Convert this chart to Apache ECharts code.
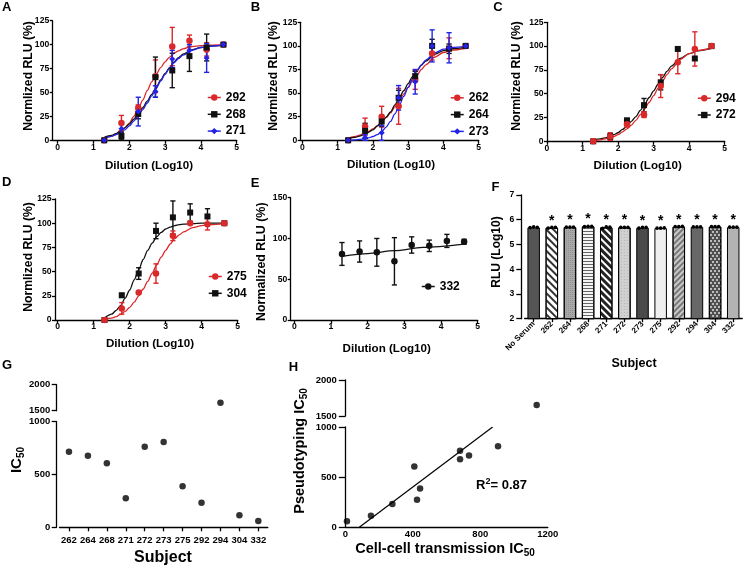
<!DOCTYPE html>
<html><head><meta charset="utf-8">
<script src="https://cdn.jsdelivr.net/npm/echarts@6/dist/echarts.min.js"></script>
<style>html,body{margin:0;padding:0;background:#fff}#c{width:747px;height:569px}</style>
</head><body><div id="c"></div>
<script>
const FONT = '"Liberation Sans", Arial, Helvetica, sans-serif';
const RED = '#d9292b', BLK = '#111111', BLU = '#2323e8';

// ---- shared dilution x values ----
const dilution = [1.3, 1.78, 2.25, 2.73, 3.2, 3.68, 4.16, 4.63];
const fitX = [1.3, 1.5, 1.625, 1.75, 1.875, 2, 2.125, 2.25, 2.375, 2.5, 2.625, 2.75, 2.875, 3, 3.125, 3.25, 3.375, 3.5, 3.75, 4, 4.25, 4.63];
const dilutionTicks = [0, 1, 2, 3, 4, 5];

// ---- Panel A ----
const a292 = [0, 18, 34, 67, 98, 104, 95, 100];
const a292Err = [0, 8, 3, 17, 20, 6, 7, 0];
const a292Fit = [2, 4, 6, 9, 13, 18, 25, 33, 42, 52, 61, 69, 76, 82, 87, 91, 93.5, 95.5, 98, 99, 99.5, 100];
const a268 = [0, 4.5, 27.5, 66, 73, 88, 97, 100];
const a268Err = [0, 4, 5, 21, 18, 16, 14, 0];
const a268Fit = [3, 5, 7, 10, 13, 17, 22, 28, 34, 41, 48, 55, 63, 70, 76, 82, 86.5, 90, 94.5, 97, 98.5, 99.5];
const a271 = [0, 12, 30, 51, 85, 94, 86, 100];
const a271Err = [0, 6, 15, 6, 9, 6, 15, 0];
const a271Fit = [2, 4, 6, 8, 11, 15, 20, 26, 32, 39, 46.5, 54, 62, 69, 75.5, 81, 85.5, 89, 94, 97, 98.5, 99.5];

// ---- Panel B ----
const b262 = [0, 14.5, 25, 36, 64, 92, 97.5, 100];
const b262Err = [0, 9, 11, 19, 10, 7, 11, 0];
const b262Fit = [2, 4, 5.5, 7, 9.5, 12, 15.5, 19, 24, 29, 35.5, 42, 49, 56, 63, 69, 75, 80, 88, 93, 95.5, 97.5];
const b264 = [0, 10, 20, 45, 68, 100, 97, 100];
const b264Err = [0, 8, 5, 8, 5, 7, 5, 0];
const b264Fit = [1.5, 3, 4.5, 6, 8.5, 11, 15, 19, 24.5, 30, 37.5, 45, 52.5, 60, 67.5, 74, 79.5, 84, 91, 95, 97, 98.5];
const b273 = [0, 3, 8, 45, 62, 100, 98, 100];
const b273Err = [0, 3, 8, 13, 13, 17, 16, 0];
const b273Fit = [0, 0.5, 1, 1.5, 2.5, 4, 6, 9, 14, 20, 28, 37, 46.5, 56, 65, 73, 80, 85, 92.5, 96.5, 98.5, 99.5];

// ---- Panel C ----
const c294 = [0, 5, 18, 28, 58, 83, 97, 100];
const c294Err = [0, 4, 3, 3, 12, 12, 18, 0];
const c294Fit = [0.5, 1.5, 2.5, 3.5, 5, 7, 10, 13, 17, 22, 28, 34, 41, 48, 55.5, 63, 70, 76, 86, 92, 95.5, 98];
const c272 = [0, 5, 22, 38, 62, 97, 87, 100];
const c272Err = [0, 3, 2, 7, 8, 0, 0, 0];
const c272Fit = [1, 2.5, 3.5, 5, 7, 9, 12.5, 16, 21, 26, 32.5, 39, 46, 53, 60, 67, 73.5, 79, 87, 92, 95, 97.5];

// ---- Panel D ----
const d275 = [0, 12, 28.5, 48, 87, 100, 99, 100];
const d275Err = [0, 6, 1, 10, 5, 0, 6, 0];
const d275Fit = [0.5, 2, 3.5, 6, 9, 13, 18.5, 25, 32, 40, 48.5, 57, 65, 72, 78.5, 84, 88, 91, 95.5, 97.5, 98.5, 99.5];
const d304 = [0, 25.5, 48, 92, 106, 111, 107, 100];
const d304Err = [0, 2, 6, 8, 17, 9, 8, 0];
const d304Fit = [2, 6, 10, 15, 22.5, 31, 41.5, 52, 62.5, 72, 79.5, 86, 90.5, 94, 96, 97.5, 98.5, 99, 99.5, 100, 100, 100];

// ---- Panel E ----
const e332 = [81, 84, 83, 72, 92, 91, 97, 96];
const e332Err = [14, 13, 17, 29, 10, 7, 8, 3];
const e332FitX = [1.3, 2, 2.73, 3.5, 4.63];
const e332Fit = [78, 81.5, 85, 89, 93];

// ---- Panel F ----
const fSubjects = ['No Serum', '262', '264', '268', '271', '272', '273', '275', '292', '294', '304', '332'];
const fMeans = [5.69, 5.68, 5.70, 5.73, 5.69, 5.69, 5.68, 5.66, 5.72, 5.71, 5.72, 5.70];
const fReps = [
  [5.68, 5.71, 5.69], [5.66, 5.69, 5.69], [5.70, 5.70, 5.70], [5.72, 5.73, 5.73],
  [5.65, 5.71, 5.70], [5.69, 5.69, 5.69], [5.66, 5.69, 5.69], [5.66, 5.66, 5.67],
  [5.72, 5.72, 5.73], [5.71, 5.71, 5.71], [5.72, 5.72, 5.72], [5.70, 5.70, 5.70]
];
const fSignificant = [false, true, true, true, true, true, true, true, true, true, true, true];

// ---- Panel G ----
const gSubjects = ['262', '264', '268', '271', '272', '273', '275', '292', '294', '304', '332'];
const gIC50 = [716, 678, 606, 275, 763, 808, 388, 233, 1654, 114, 60];

// ---- Panel H ----
const hCellCell = [733, 680, 409, 425, 680, 905, 443, 279, 1134, 152, 10];
const hPseudo = [716, 678, 606, 275, 763, 808, 388, 233, 1654, 114, 60];
const hFitX = [83, 873];
const hFitY = [0, 1000];

// ================= styling helpers =================
const lineSt = { color: '#000', width: 1.3 };
const plain = v => String(v);
function lab(size, margin, extra) {
  return Object.assign({ fontFamily: FONT, fontWeight: 'bold', fontSize: size, color: '#000', margin: margin, formatter: plain }, extra || {});
}
function dilX(gi, min) {
  return {
    type: 'value', gridIndex: gi, min: min, max: 5,
    axisLine: { show: true, onZero: false, lineStyle: lineSt },
    axisTick: { show: true, customValues: dilutionTicks, length: 3.5, lineStyle: lineSt },
    axisLabel: lab(8.6, 2.5, { customValues: dilutionTicks }),
    splitLine: { show: false }
  };
}
function valY(gi, min, max, interval, size, margin, tickLen, offset) {
  return {
    type: 'value', gridIndex: gi, min: min, max: max, interval: interval, offset: offset || 0,
    axisLine: { show: true, onZero: false, lineStyle: lineSt },
    axisTick: { show: true, length: tickLen, lineStyle: lineSt },
    axisLabel: lab(size, margin),
    splitLine: { show: false }
  };
}
function pointSeries(name, gi, ys, color, symbol) {
  return {
    type: 'line', name: name, xAxisIndex: gi, yAxisIndex: gi, z: 6,
    data: dilution.map((x, i) => [x, ys[i]]),
    symbol: symbol, symbolSize: symbol === 'circle' ? 6.5 : 6, showSymbol: true,
    itemStyle: { color: color, borderWidth: 0 }, lineStyle: { color: color, opacity: 0, width: 0 },
    silent: true, clip: false
  };
}
function fitSeries(gi, xs, ys, color) {
  return {
    type: 'line', xAxisIndex: gi, yAxisIndex: gi, z: 3,
    data: xs.map((x, i) => [x, ys[i]]),
    smooth: 0.3, smoothMonotone: 'x', symbol: 'none', showSymbol: false,
    lineStyle: { color: color, width: 1.3 }, silent: true
  };
}
function errSeries(gi, ys, es, color) {
  return {
    type: 'custom', xAxisIndex: gi, yAxisIndex: gi, z: 4, silent: true, clip: false,
    data: dilution.map((x, i) => [x, ys[i], es[i]]),
    renderItem: function (p, api) {
      const x = api.value(0), m = api.value(1), e = api.value(2);
      if (!e) return null;
      const t = api.coord([x, m + e]), b = api.coord([x, m - e]);
      const st = { stroke: color, lineWidth: 1.4 };
      return {
        type: 'group', children: [
          { type: 'line', shape: { x1: t[0], y1: t[1], x2: b[0], y2: b[1] }, style: st },
          { type: 'line', shape: { x1: t[0] - 2.6, y1: t[1], x2: t[0] + 2.6, y2: t[1] }, style: st },
          { type: 'line', shape: { x1: b[0] - 2.6, y1: b[1], x2: b[0] + 2.6, y2: b[1] }, style: st }
        ]
      };
    }
  };
}
function group(name, gi, ys, es, fx, fy, color, symbol) {
  return [fitSeries(gi, fx, fy, color), errSeries(gi, ys, es, color), pointSeries(name, gi, ys, color, symbol)];
}
function legend(left, top, names) {
  return {
    show: true, orient: 'vertical', left: left, top: top, padding: 0,
    itemWidth: 13, itemHeight: 8, itemGap: 4.8, selectedMode: false,
    lineStyle: { width: 1.5, opacity: 1 },
    textStyle: { fontFamily: FONT, fontWeight: 'bold', fontSize: 12, color: '#000' },
    data: names
  };
}

// ================= grids =================
const grids = [
  { left: 52.7, top: 20.7, width: 184, height: 119.6 },   // A
  { left: 300.7, top: 22.3, width: 178, height: 118 },    // B
  { left: 547, top: 22.3, width: 177.7, height: 119 },    // C
  { left: 55, top: 199, width: 182.7, height: 121 },      // D
  { left: 290.7, top: 197.7, width: 187, height: 122.3 }, // E
  { left: 524.6, top: 195, width: 217.7, height: 123.7 }, // F
  { left: 59.5, top: 421.7, width: 208.3, height: 105.6 },// G lower
  { left: 59.5, top: 384.7, width: 208.3, height: 26 },   // G upper
  { left: 345.3, top: 427, width: 202.5, height: 100.3 }, // H lower
  { left: 345.3, top: 380, width: 202.5, height: 36 }     // H upper
];

const xAxes = [
  dilX(0, -0.14), dilX(1, -0.045), dilX(2, 0), dilX(3, -0.075), dilX(4, -0.098),
  { type: 'category', gridIndex: 5, data: fSubjects,
    axisLine: { show: true, onZero: false, lineStyle: lineSt },
    axisTick: { show: true, alignWithLabel: true, length: 3.5, lineStyle: lineSt },
    axisLabel: lab(8, 4, { rotate: 45, interval: 0 }), splitLine: { show: false } },
  { type: 'category', gridIndex: 6, data: gSubjects,
    axisLine: { show: true, onZero: false, lineStyle: lineSt },
    axisTick: { show: true, alignWithLabel: true, length: 4, lineStyle: lineSt },
    axisLabel: lab(9.5, 8, { interval: 0 }), splitLine: { show: false } },
  { type: 'category', gridIndex: 7, data: gSubjects, show: false },
  { type: 'value', gridIndex: 8, min: 0, max: 1200, interval: 400,
    axisLine: { show: true, onZero: false, lineStyle: lineSt },
    axisTick: { show: false },
    axisLabel: lab(9.5, 2.5), splitLine: { show: false } },
  { type: 'value', gridIndex: 9, min: 0, max: 1200, show: false }
];
const yAxes = [
  valY(0, 0, 125, 25, 8.6, 3.5, 3), valY(1, 0, 125, 25, 8.6, 3.5, 3), valY(2, 0, 125, 25, 8.6, 3.5, 3),
  valY(3, 0, 125, 25, 8.6, 3.5, 3), valY(4, 0, 150, 50, 8.6, 3.5, 3),
  valY(5, 2, 7, 1, 8.6, 7, 5, 3.3),
  valY(6, 0, 1000, 500, 9.5, 6.5, 5, 2.8), valY(7, 1500, 2000, 500, 9.5, 6.5, 5, 2.8),
  valY(8, 0, 1000, 500, 9.5, 8.5, 6.5), valY(9, 1500, 2000, 500, 9.5, 8.5, 6.5)
];

// ================= series =================
let series = [];
series = series.concat(
  group('292', 0, a292, a292Err, fitX, a292Fit, RED, 'circle'),
  group('268', 0, a268, a268Err, fitX, a268Fit, BLK, 'rect'),
  group('271', 0, a271, a271Err, fitX, a271Fit, BLU, 'diamond'),
  group('262', 1, b262, b262Err, fitX, b262Fit, RED, 'circle'),
  group('264', 1, b264, b264Err, fitX, b264Fit, BLK, 'rect'),
  group('273', 1, b273, b273Err, fitX, b273Fit, BLU, 'diamond'),
  group('272', 2, c272, c272Err, fitX, c272Fit, BLK, 'rect'),
  group('294', 2, c294, c294Err, fitX, c294Fit, RED, 'circle'),
  group('304', 3, d304, d304Err, fitX, d304Fit, BLK, 'rect'),
  group('275', 3, d275, d275Err, fitX, d275Fit, RED, 'circle'),
  group('332', 4, e332, e332Err, e332FitX, e332Fit, BLK, 'circle')
);

// Panel F bars
const fStyles = [
  { color: '#555555' },
  { color: '#ffffff', decal: { symbol: 'rect', symbolSize: 1, dashArrayX: [1, 0], dashArrayY: [1.6, 2.4], rotation: Math.PI / 4, color: '#333' } },
  { color: '#a8a8a8', decal: { symbol: 'circle', symbolSize: 0.8, dashArrayX: [[1, 1]], dashArrayY: [1, 1], color: '#707070' } },
  { color: '#f4f4f4', decal: { symbol: 'rect', symbolSize: 1, dashArrayX: [1, 0], dashArrayY: [1, 2], rotation: 0, color: '#666' } },
  { color: '#ffffff', decal: { symbol: 'rect', symbolSize: 1, dashArrayX: [1, 0], dashArrayY: [2.6, 1.8], rotation: Math.PI / 4, color: '#222' } },
  { color: '#d0d0d0', decal: { symbol: 'circle', symbolSize: 0.8, dashArrayX: [[1, 1.5]], dashArrayY: [1, 1.5], color: '#9a9a9a' } },
  { color: '#4a4a4a' },
  { color: '#efefef' },
  { color: '#c8c8c8', decal: { symbol: 'rect', symbolSize: 1, dashArrayX: [1, 0], dashArrayY: [2, 2], rotation: -Math.PI / 4, color: '#777' } },
  { color: '#676767' },
  { color: '#4f4f4f', decal: { symbol: 'circle', symbolSize: 1, dashArrayX: [[1.6, 1.6], [0, 1.6, 1.6, 0]], dashArrayY: [1.6, 0.8], color: '#e0e0e0' } },
  { color: '#b3b3b3' }
];
series.push({
  type: 'bar', xAxisIndex: 5, yAxisIndex: 5, barWidth: 12.5, silent: true,
  data: fMeans.map((v, i) => ({ value: v, itemStyle: Object.assign({ borderColor: '#000', borderWidth: 1 }, fStyles[i]) })),
  label: { show: true, position: 'top', distance: 0, formatter: p => fSignificant[p.dataIndex] ? '*' : '',
    fontFamily: FONT, fontWeight: 'bold', fontSize: 14, color: '#000' }
});
const fDots = [];
fReps.forEach((r, i) => r.forEach((v, k) => fDots.push([i, v, k])));
series.push({
  type: 'custom', xAxisIndex: 5, yAxisIndex: 5, z: 5, silent: true, data: fDots,
  renderItem: function (p, api) {
    const c = api.coord([api.value(0), api.value(1)]);
    return { type: 'circle', shape: { cx: c[0] + (api.value(2) - 1) * 3.6, cy: c[1], r: 1.8 }, style: { fill: '#000' } };
  }
});

// Panel G scatter
const gLow = [], gHigh = [];
gIC50.forEach((v, i) => (v <= 1000 ? gLow : gHigh).push([i, v]));
series.push({ type: 'scatter', xAxisIndex: 6, yAxisIndex: 6, data: gLow, symbolSize: 6.5, itemStyle: { color: '#000' }, silent: true });
series.push({ type: 'scatter', xAxisIndex: 7, yAxisIndex: 7, data: gHigh, symbolSize: 6.5, itemStyle: { color: '#000' }, silent: true });

// Panel H scatter + fit
const hLow = [], hHigh = [];
hPseudo.forEach((v, i) => (v <= 1000 ? hLow : hHigh).push([hCellCell[i], v]));
series.push({ type: 'scatter', xAxisIndex: 8, yAxisIndex: 8, data: hLow, symbolSize: 6.5, itemStyle: { color: '#000' }, silent: true, clip: false });
series.push({ type: 'scatter', xAxisIndex: 9, yAxisIndex: 9, data: hHigh, symbolSize: 6.5, itemStyle: { color: '#000' }, silent: true });
series.push({ type: 'line', xAxisIndex: 8, yAxisIndex: 8, data: hFitX.map((x, i) => [x, hFitY[i]]), symbol: 'none',
  lineStyle: { color: '#000', width: 1.2 }, silent: true });

// ================= text =================
function T(text, x, y, size, rot, rich) {
  const st = { text: text, fill: '#000', font: 'bold ' + size + 'px ' + FONT,
    align: 'center', verticalAlign: 'middle', textAlign: 'center', textVerticalAlign: 'middle' };
  if (rich) st.rich = rich;
  return { type: 'text', x: x, y: y, rotation: rot || 0, style: st, silent: true };
}
const R90 = Math.PI / 2;
function sub(main, subSize) {
  return {
    m: { fontFamily: FONT, fontWeight: 'bold', fontSize: main, color: '#000' },
    s: { fontFamily: FONT, fontWeight: 'bold', fontSize: subSize, color: '#000', padding: [main * 0.55, 0, 0, 0] }
  };
}
const graphics = [
  T('A', 6.7, 7.2, 13), T('B', 255.5, 7.3, 13), T('C', 498, 7.3, 13),
  T('D', 6.7, 182.5, 13), T('E', 255, 183.3, 13), T('F', 495.5, 187.5, 13),
  T('G', 7, 365.8, 13), T('H', 293.5, 367.5, 13),
  T('Dilution (Log10)', 149, 165.7, 11.6), T('Dilution (Log10)', 391, 165, 11.6), T('Dilution (Log10)', 637.7, 165.7, 11.6),
  T('Dilution (Log10)', 150, 344, 11.6), T('Dilution (Log10)', 386.7, 348.3, 11.6),
  T('Normlized RLU (%)', 28.3, 76, 12.2, R90), T('Normlized RLU (%)', 273.3, 76, 12.2, R90),
  T('Normlized RLU (%)', 517, 76, 12.2, R90), T('Normlized RLU (%)', 28.3, 257, 12.2, R90),
  T('Normalized RLU (%)', 261.7, 261.7, 12.4, R90),
  T('RLU (Log10)', 497, 252, 12, R90), T('Subject', 634, 364, 12.5),
  T('Subject', 163, 558, 16),
  T('{m|IC}{s|50}', 17, 460, 15, R90, sub(15, 10)),
  T('{m|Pseudotyping IC}{s|50}', 300, 451, 14.5, R90, sub(14.5, 10)),
  T('{m|Cell-cell transmission IC}{s|50}', 445, 549, 14.5, 0, sub(14.5, 10)),
  T('{m|R}{p|2}{m|= 0.87}', 501.5, 485, 13, 0, {
    m: { fontFamily: FONT, fontWeight: 'bold', fontSize: 13, color: '#000' },
    p: { fontFamily: FONT, fontWeight: 'bold', fontSize: 9, color: '#000', padding: [0, 0, 7, 0] }
  })
];

const chart = echarts.init(document.getElementById('c'), null, { renderer: 'canvas' });
chart.setOption({
  animation: false,
  backgroundColor: '#ffffff',
  textStyle: { fontFamily: FONT },
  grid: grids,
  xAxis: xAxes,
  yAxis: yAxes,
  legend: [
    legend(207, 91.5, ['292', '268', '271']),
    legend(450, 91.8, ['262', '264', '273']),
    legend(697, 92.2, ['294', '272']),
    legend(208, 270.5, ['275', '304']),
    legend(421, 280.5, ['332'])
  ],
  series: series,
  graphic: { elements: graphics }
});
</script></body></html>
